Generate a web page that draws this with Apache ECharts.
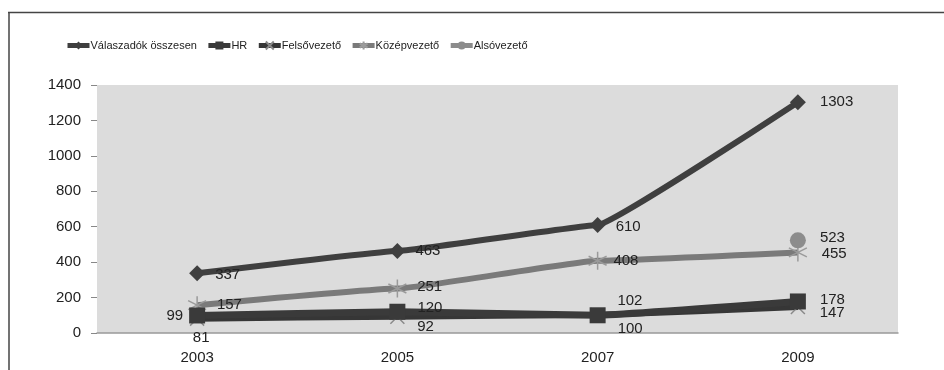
<!DOCTYPE html>
<html><head><meta charset="utf-8">
<script src="https://cdn.jsdelivr.net/npm/echarts@6/dist/echarts.min.js"></script>
<style>html,body{margin:0;padding:0;background:#fff}#c{width:944px;height:370px}</style>
</head><body><div id="c"></div>
<script>
const years = ['2003','2005','2007','2009'];
const seriesNames = ['Válaszadók összesen','HR','Felsővezető','Középvezető','Alsóvezető'];
const valaszadok = [337, 463, 610, 1303];
const hr = [99, 120, 100, 178];
const felso = [81, 92, 102, 147];
const kozep = [157, 251, 408, 455];
const also = [null, null, null, 523];
const yTicks = [0, 200, 400, 600, 800, 1000, 1200, 1400];

const FONT = '"Liberation Sans",Arial,sans-serif';
const G = {left: 97, right: 46, top: 85, bottom: 37};

// label placement styles per point: [position, dx, dy]
const lp = {
  valaszadok: [['right',2,2],['right',2,0],['right',2,2],['right',6,0]],
  hr: [['left',2,0],['right',4,-4],['right',4,14],['right',6,-2]],
  felso: [['bottom',4,-4],['right',4,10],['right',4,-14],['right',6,6]],
  kozep: [['right',2,0],['right',2,-2],['right',-2,0],['right',6,1]],
  also: [null,null,null,['right',6,-2]]
};
function build(vals, pos){
  return vals.map((v,i)=>{
    if(v==null) return null;
    const p = pos[i];
    return {value:v, label:{show:true, position:p[0], offset:[p[1],p[2]]}};
  });
}
const lblStyle = {fontFamily: FONT, fontSize: 15, color: '#222', distance: 8};

const chart = echarts.init(document.getElementById('c'), null, {renderer:'canvas'});
chart.setOption({
  animation: false,
  backgroundColor: '#fff',
  textStyle: {fontFamily: FONT},
  legend: {
    top: 35, left: 60,
    itemWidth: 22, itemHeight: 10, itemGap: 9,
    lineStyle: {width: 5},
    textStyle: {fontFamily: FONT, fontSize: 11, color: '#222', padding:[0,0,0,-4]},
    data: seriesNames
  },
  grid: {left: G.left, right: G.right, top: G.top, bottom: G.bottom, show: true,
         backgroundColor: '#dcdcdc', borderWidth: 0},
  xAxis: {
    type: 'category', data: years, boundaryGap: true,
    axisLine: {show: true, lineStyle: {color: '#999', width: 1.5}},
    axisTick: {show: false},
    axisLabel: {fontFamily: FONT, fontSize: 15, color: '#222', margin: 17}
  },
  yAxis: {
    type: 'value', min: yTicks[0], max: yTicks[yTicks.length-1], interval: yTicks[1]-yTicks[0],
    axisLine: {show: false},
    axisTick: {show: true, length: 6, lineStyle: {color: '#888'}},
    splitLine: {show: false},
    axisLabel: {fontFamily: FONT, fontSize: 15, color: '#222', margin: 16, formatter: v => String(v)}
  },
  graphic: [
    {type:'line', shape:{x1:8, y1:12.5, x2:944, y2:12.5}, style:{stroke:'#444', lineWidth:1.5}, z:100},
    {type:'line', shape:{x1:9, y1:12, x2:9, y2:370}, style:{stroke:'#444', lineWidth:1.5}, z:100},
    {type:'rect', shape:{x:G.left, y:G.top, width:944-G.right-G.left, height:6}, z:-1,
     style:{fill:new echarts.graphic.LinearGradient(0,0,0,1,[{offset:0,color:'#555'},{offset:1,color:'#dcdcdc'}])}},
    {type:'rect', shape:{x:944-G.right-9, y:G.top, width:9, height:370-G.bottom-G.top}, z:-1,
     style:{fill:new echarts.graphic.LinearGradient(0,0,1,0,[{offset:0,color:'#dcdcdc'},{offset:0.55,color:'#888'},{offset:1,color:'#444'}])}}
  ],
  series: [
    {name: seriesNames[0], type:'line', data: build(valaszadok, lp.valaszadok), smooth: 0.07, smoothMonotone:'x',
     symbol:'diamond', symbolSize: 16, z: 5,
     lineStyle:{color:'#3f3f3f', width:6}, itemStyle:{color:'#3f3f3f'}, label: lblStyle},
    {name: seriesNames[2], type:'line', data: build(felso, lp.felso), smooth: 0.07, smoothMonotone:'x',
     symbol:'path://M-6,-6 L6,6 M-6,6 L6,-6', symbolSize: 14, z: 3,
     lineStyle:{color:'#363636', width:6}, itemStyle:{color:'#8a8a8a', borderColor:'#8a8a8a', borderWidth:1.5}, label: lblStyle},
    {name: seriesNames[1], type:'line', data: build(hr, lp.hr), smooth: 0.07, smoothMonotone:'x',
     symbol:'rect', symbolSize: 16, z: 4,
     lineStyle:{color:'#3a3a3a', width:7}, itemStyle:{color:'#3a3a3a'}, label: lblStyle},
    {name: seriesNames[3], type:'line', data: build(kozep, lp.kozep), smooth: 0.1, smoothMonotone:'x',
     symbol:'path://M0,-10 L0,10 M-8.66,-5 L8.66,5 M-8.66,5 L8.66,-5', symbolSize: 18, z: 2,
     lineStyle:{color:'#7a7a7a', width:6}, itemStyle:{color:'#9a9a9a', borderColor:'#9a9a9a', borderWidth:1.5}, label: lblStyle},
    {name: seriesNames[4], type:'line', data: build(also, lp.also),
     symbol:'circle', symbolSize: 16, z: 2,
     lineStyle:{color:'#8c8c8c', width:6}, itemStyle:{color:'#8c8c8c'}, label: lblStyle}
  ]
});
</script></body></html>
